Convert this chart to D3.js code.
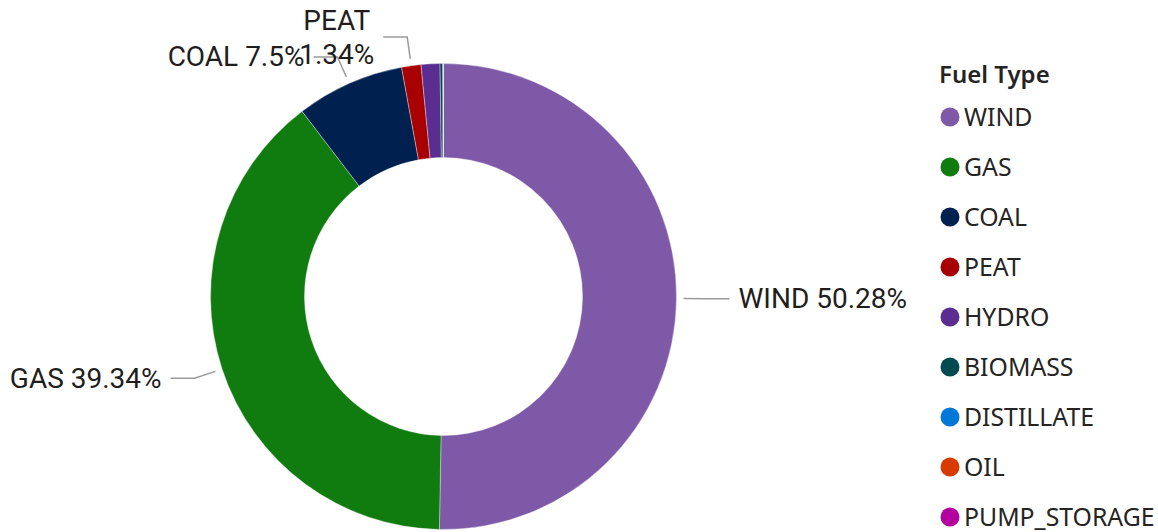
<!DOCTYPE html>
<html>
<head>
<meta charset="utf-8">
<script src="https://cdn.jsdelivr.net/npm/d3@7"></script>
<style>
  html, body { margin: 0; padding: 0; background: #fff; }
  .label { font-family: Roboto, "DejaVu Sans", sans-serif; font-size: 28px; fill: #1f1e1d; }
  .legend { font-family: "Noto Sans", "Open Sans", sans-serif; font-size: 24.8px; fill: #252423; }
</style>
</head>
<body>
<div id="vis"></div>
<script>
// fuel mix data (percent share)
const fuelTypes = ["WIND", "GAS", "COAL", "PEAT", "HYDRO", "BIOMASS", "DISTILLATE", "OIL", "PUMP_STORAGE"];
const shares = [50.28, 39.34, 7.5, 1.34, 1.3, 0.2, 0.02, 0.01, 0.01];
const fuelColors = ["#7E59A8", "#107C10", "#002050", "#A80000", "#5C2D91", "#004B50", "#0078D7", "#D83B01", "#B4009E"];
// slices that get a data label, wrapped ones are split on two lines
const labelledFuels = ["WIND", "GAS", "COAL", "PEAT"];
const wrappedFuels = ["PEAT"];

const width = 1158, height = 532;
const cx = 443.5, cy = 296.5;
const outerR = 233, innerR = 139;

const svg = d3.select("#vis")
  .append("svg")
    .attr("width", width)
    .attr("height", height);

const data = fuelTypes.map((f, i) => ({ fuel: f, share: shares[i] }));

const color = d3.scaleOrdinal()
    .domain(fuelTypes)
    .range(fuelColors);

const pie = d3.pie()
    .sort(null)
    .value(d => d.share);

const arc = d3.arc()
    .innerRadius(innerR)
    .outerRadius(outerR);

const arcs = pie(data);

const g = svg.append("g")
    .attr("transform", `translate(${cx}, ${cy})`);

g.selectAll("path")
  .data(arcs)
  .join("path")
    .attr("d", arc)
    .attr("fill", d => color(d.data.fuel))
    .attr("stroke", "#fff")
    .attr("stroke-width", 0.35);

// leader lines + labels
const pt = (a, r) => [r * Math.sin(a), -r * Math.cos(a)];

arcs.filter(d => labelledFuels.includes(d.data.fuel)).forEach(d => {
  const mid = (d.startAngle + d.endAngle) / 2;
  const p0 = pt(mid, outerR + 7);
  const p1 = pt(mid, outerR + 29);
  const dir = Math.sin(mid) >= 0 ? 1 : -1;
  const p2 = [p1[0] + dir * 24, p1[1]];

  g.append("polyline")
    .attr("points", [p0, p1, p2].map(p => p.join(",")).join(" "))
    .attr("fill", "none")
    .attr("stroke", "#9a9a9a")
    .attr("stroke-width", 1.5);

  const txt = `${d.data.fuel} ${d.data.share}%`;
  const tx = p2[0] + dir * 9;
  if (wrappedFuels.includes(d.data.fuel)) {
    const t = g.append("text").attr("class", "label").attr("text-anchor", "middle");
    const lines = [d.data.fuel, `${d.data.share}%`];
    const sp = t.selectAll("tspan").data(lines).join("tspan")
        .attr("dy", (l, i) => i === 0 ? 0 : 34)
        .text(l => l);
    let w = 0;
    sp.each(function() { w = Math.max(w, this.getComputedTextLength()); });
    const x = dir > 0 ? tx + w / 2 : tx - w / 2;
    sp.attr("x", x);
    t.attr("y", p2[1] - 7);
  } else {
    g.append("text")
      .attr("class", "label")
      .attr("x", tx)
      .attr("y", p2[1] + 9.5)
      .attr("text-anchor", dir > 0 ? "start" : "end")
      .text(txt);
  }
});

// legend
const legend = svg.append("g")
    .attr("transform", "translate(939, 0)");

legend.append("text")
    .attr("class", "legend")
    .attr("x", 0)
    .attr("y", 83)
    .style("font-weight", 600)
    .style("font-size", "24px")
    .text("Fuel Type");

const rows = legend.selectAll("g.row")
  .data(fuelTypes)
  .join("g")
    .attr("class", "row")
    .attr("transform", (d, i) => `translate(0, ${117 + i * 50})`);

rows.append("circle")
    .attr("cx", 11)
    .attr("cy", 0)
    .attr("r", 9.5)
    .attr("fill", d => color(d));

rows.append("text")
    .attr("class", "legend")
    .attr("x", 25)
    .attr("y", 8.5)
    .text(d => d);
</script>
</body>
</html>
